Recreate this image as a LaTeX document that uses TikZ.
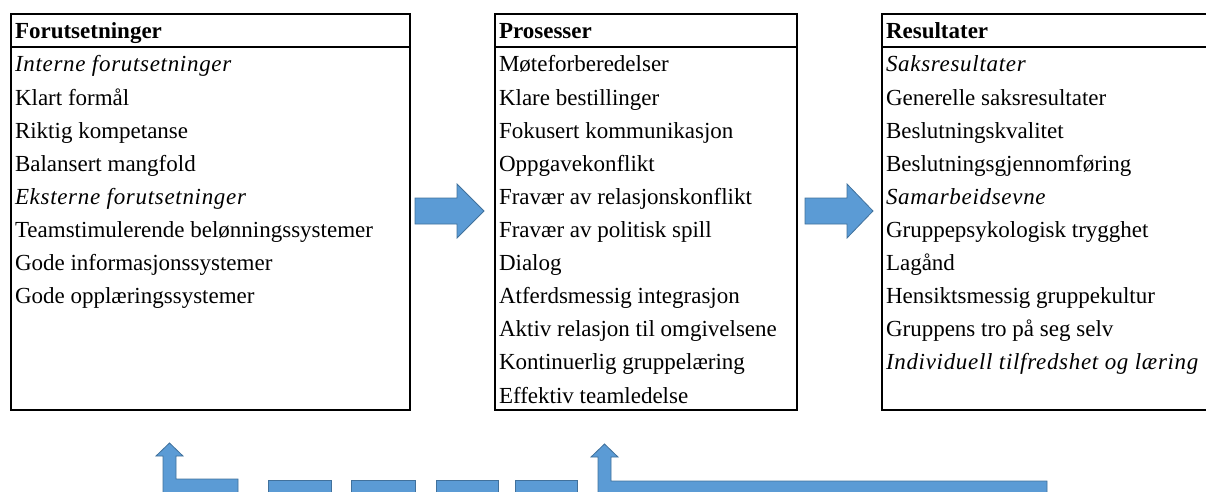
\documentclass[tikz,border=0pt]{standalone}
\usepackage{fontspec}
\setmainfont{Liberation Serif}
\newfontfamily\spacedit{Liberation Serif}[LetterSpace=3]
\newcommand\rowsize{\fontsize{23}{27}\selectfont}
\definecolor{arrfill}{HTML}{5B9BD5}
\definecolor{arrline}{HTML}{41719C}
\begin{document}
\begin{tikzpicture}[x=1pt,y=-1pt,
  panel/.style={draw=black,line width=2pt,fill=none},
  rowtext/.style={anchor=base west,inner sep=0pt,outer sep=0pt},
  headtext/.style={rowtext,font=\rowsize\bfseries},
  blockarrow/.style={fill=arrfill,draw=arrline,line width=0.8pt,line join=miter}]
\useasboundingbox (0,0) rectangle (1206,492);
\clip (0,0) rectangle (1206,492);
% panels
\draw[panel] (11,14) rectangle (410,410);
\draw[panel] (11,47) -- (410,47);
\draw[panel] (495,14) rectangle (797,410);
\draw[panel] (495,47) -- (797,47);
\draw[panel] (882,14) rectangle (1220,410);
\draw[panel] (882,47) -- (1220,47);
% headers
\node[headtext] (hf) at (15,39) {Forutsetninger};
\node[headtext] (hp) at (499,39) {Prosesser};
\node[headtext] (hr) at (886,39) {Resultater};
% rows
\foreach \f/\t [count=\i from 0] in {
  {\spacedit\itshape}/Interne forutsetninger,
  {}/Klart formål,
  {}/Riktig kompetanse,
  {}/Balansert mangfold,
  {\spacedit\itshape}/Eksterne forutsetninger,
  {}/Teamstimulerende belønningssystemer,
  {}/Gode informasjonssystemer,
  {}/Gode opplæringssystemer}
  \node[rowtext,font=\f\rowsize] (f\i) at (15,72+33.1*\i) {\t};
\foreach \f/\t [count=\i from 0] in {
  {}/Møteforberedelser,
  {}/Klare bestillinger,
  {}/Fokusert kommunikasjon,
  {}/Oppgavekonflikt,
  {}/Fravær av relasjonskonflikt,
  {}/Fravær av politisk spill,
  {}/Dialog,
  {}/Atferdsmessig integrasjon,
  {}/Aktiv relasjon til omgivelsene,
  {}/Kontinuerlig gruppelæring,
  {}/Effektiv teamledelse}
  \node[rowtext,font=\f\rowsize] (p\i) at (499,72+33.1*\i) {\t};
\foreach \f/\t [count=\i from 0] in {
  {\spacedit\itshape}/Saksresultater,
  {}/Generelle saksresultater,
  {}/Beslutningskvalitet,
  {}/Beslutningsgjennomføring,
  {\spacedit\itshape}/Samarbeidsevne,
  {}/Gruppepsykologisk trygghet,
  {}/Lagånd,
  {}/Hensiktsmessig gruppekultur,
  {}/Gruppens tro på seg selv,
  {\spacedit\itshape}/Individuell tilfredshet og læring}
  \node[rowtext,font=\f\rowsize] (r\i) at (886,72+33.1*\i) {\t};
% right block arrows
\draw[blockarrow] (415,198) -- (457,198) -- (457,184) -- (484,211) -- (457,238) -- (457,224) -- (415,224) -- cycle;
\draw[blockarrow] (805,198) -- (847,198) -- (847,184) -- (873,211) -- (847,238) -- (847,224) -- (805,224) -- cycle;
% bottom bent arrows and dashes
\draw[blockarrow] (163,500) -- (163,456) -- (156,456) -- (169.5,443) -- (183,456) -- (176,456) -- (176,479) -- (238,479) -- (238,500) -- cycle;
\draw[blockarrow] (268,480) rectangle (331,500);
\draw[blockarrow] (351,480) rectangle (415,500);
\draw[blockarrow] (436,480) rectangle (498,500);
\draw[blockarrow] (515,480) rectangle (577,500);
\draw[blockarrow] (598,500) -- (598,457) -- (591,457) -- (604.5,444) -- (618,457) -- (611,457) -- (611,481) -- (1047,481) -- (1047,500) -- cycle;
\end{tikzpicture}
\end{document}
